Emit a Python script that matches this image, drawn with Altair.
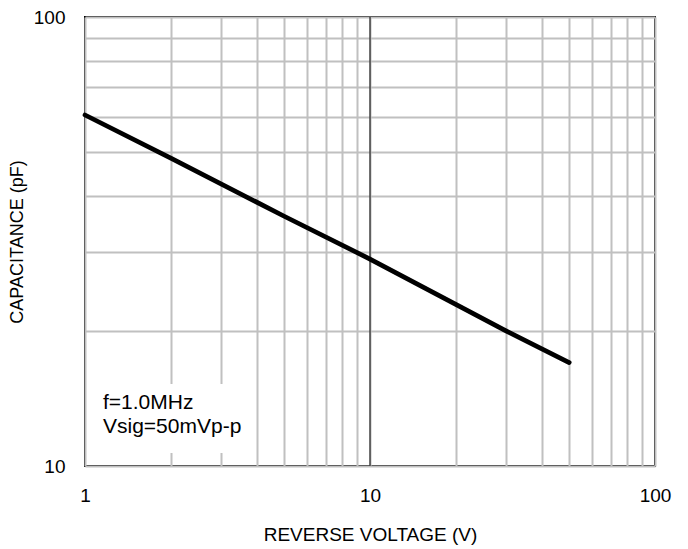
import altair as alt
import pandas as pd

# data
voltage = [1, 2, 5, 10, 20, 30, 50]
capacitance = [60.5, 48.5, 36.0, 28.9, 22.9, 20.0, 17.0]

x_grid_values = [1, 2, 3, 4, 5, 6, 7, 8, 9, 10, 20, 30, 40, 50, 60, 70, 80, 90, 100]
y_grid_values = [10, 20, 30, 40, 50, 60, 70, 80, 90, 100]
x_major = [10]
note_lines = ["f=1.0MHz", "Vsig=50mVp-p"]

FONT = "Liberation Sans"
FS = 19

df = pd.DataFrame({"V": voltage, "C": capacitance})

x_scale = alt.Scale(type="log", domain=[1, 100], nice=False)
y_scale = alt.Scale(type="log", domain=[10, 100], nice=False)

x_axis = alt.Axis(
    values=x_grid_values,
    labelExpr="(datum.value == 1 || datum.value == 10 || datum.value == 100) ? format(datum.value, 'd') : ''",
    title="REVERSE VOLTAGE (V)",
    grid=True, gridColor="#c0c0c0", gridWidth=2, gridOpacity=1,
    ticks=False, domain=False, labelFlush=False, labelOverlap=False,
    labelPadding=20, titlePadding=20,
    labelFont=FONT, titleFont=FONT, labelFontSize=FS, titleFontSize=FS,
    labelColor="black", titleColor="black", titleFontWeight="normal",
)
y_axis = alt.Axis(
    values=y_grid_values,
    labelExpr="(datum.value == 10 || datum.value == 100) ? format(datum.value, 'd') : ''",
    title="CAPACITANCE (pF)",
    grid=True, gridColor="#c0c0c0", gridWidth=2, gridOpacity=1,
    ticks=False, domain=False, labelFlush=False, labelOverlap=False,
    labelPadding=20, titlePadding=7,
    labelFont=FONT, titleFont=FONT, labelFontSize=FS, titleFontSize=18,
    labelColor="black", titleColor="black", titleFontWeight="normal",
)

line = alt.Chart(df).mark_line(color="black", strokeWidth=4.7, strokeCap="round").encode(
    x=alt.X("V:Q", scale=x_scale, axis=x_axis),
    y=alt.Y("C:Q", scale=y_scale, axis=y_axis),
)

major = alt.Chart(pd.DataFrame({"V": x_major})).mark_rule(color="black", strokeWidth=1).encode(
    x=alt.X("V:Q", scale=x_scale)
)

box = alt.Chart(pd.DataFrame({"a": [0]})).mark_rect(color="white").encode(
    x=alt.value(2), x2=alt.value(165), y=alt.value(367), y2=alt.value(436)
)

note = alt.Chart(pd.DataFrame({"t": ["\n".join(note_lines)]})).mark_text(
    align="left", baseline="alphabetic", lineBreak="\n", lineHeight=24,
    font=FONT, fontSize=21, color="black"
).encode(x=alt.value(18), y=alt.value(392), text="t:N")

chart = alt.layer(major, box, note, line).properties(
    width=570, height=449,
    autosize=alt.AutoSizeParams(type="none"),
    padding={"left": 77, "top": 9, "right": 25, "bottom": 82},
).configure_view(stroke="black", strokeWidth=2)

chart.save("out.html", embed_options={"renderer": "svg", "actions": False})
